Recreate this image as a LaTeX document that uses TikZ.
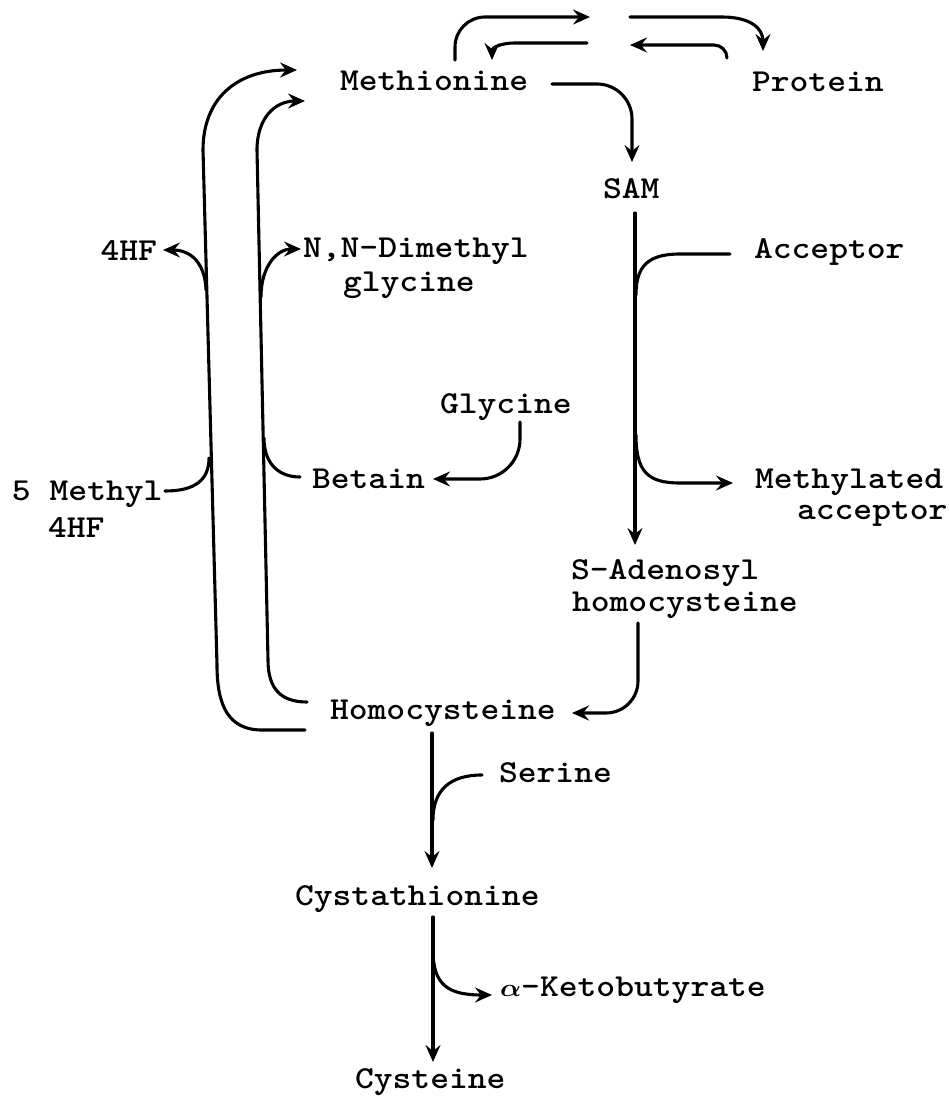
\documentclass[tikz,border=0pt]{standalone}
\usepackage{graphicx}
\usetikzlibrary{arrows.meta,calc}
\newcommand\twx[1]{\scalebox{1.12}[1]{#1}}
\begin{document}
\begin{tikzpicture}[x=1pt,y=-1pt,
  lbl/.style={inner sep=0pt,outer sep=0pt,anchor=base west,font=\fontsize{32}{32}\selectfont\ttfamily\bfseries},
  conn/.style={line width=3.1pt,line cap=round},
  arr/.style={conn,-{Stealth[length=17pt,width=15pt,inset=6pt]}}]
\useasboundingbox[fill=white] (0,0) rectangle (948,1097);
% labels
\node[lbl] (meth) at (340,91) {\twx{Methionine}};
\node[lbl] (prot) at (752,92) {\twx{Protein}};
\node[lbl] (sam) at (603,198) {\twx{SAM}};
\node[lbl] (acc) at (754,258) {\twx{Acceptor}};
\node[lbl,anchor=base east] (hf4) at (157,260) {\twx{4HF}};
\node[lbl] (dmg1) at (303,257) {\twx{N,N-Dimethyl}};
\node[lbl] (dmg2) at (343,291) {\twx{glycine}};
\node[lbl] (gly) at (440,413) {\twx{Glycine}};
\node[lbl] (bet) at (312,488) {\twx{Betain}};
\node[lbl] (mhf1) at (12,500) {\twx{5 Methyl}};
\node[lbl] (mhf2) at (48,537) {\twx{4HF}};
\node[lbl] (ma1) at (755,488) {\twx{Methylated}};
\node[lbl] (ma2) at (797,519) {\twx{acceptor}};
\node[lbl] (sah1) at (571,579) {\twx{S-Adenosyl}};
\node[lbl] (sah2) at (572,611) {\twx{homocysteine}};
\node[lbl] (hcy) at (330,719) {\twx{Homocysteine}};
\node[lbl] (ser) at (499,782) {\twx{Serine}};
\node[lbl] (cth) at (295,905) {\twx{Cystathionine}};
\node[lbl] (akb) at (500,996) {\twx{{\boldmath$\alpha$}-Ketobutyrate}};
\node[lbl] (cys) at (355,1088) {\twx{Cysteine}};
\coordinate (mid) at (610,30);
% Methionine -> SAM
\draw[arr,rounded corners=35] ($(meth.base west)+(212,-7)$) -| ($(sam.base west)+(29,-36)$);
% top cycle
\draw[arr,rounded corners=30] ($(meth.base west)+(115,-31)$) |- ($(mid)+(-20,-13)$);
\draw[arr] ($(mid)+(20,-13)$) -- (722,17) .. controls (750,17) and (763,28) .. ($(prot.base west)+(11,-41)$);
\draw[arr,rounded corners=13] ($(prot.base west)+(-25,-34)$) |- ($(mid)+(20,15)$);
\draw[arr] ($(mid)+(-23,13)$) -- (515,43) .. controls (500,43) and (492,48) .. ($(meth.base west)+(152,-31)$);
% outer loop (5-methyl-4HF)
\draw[arr] ($(hcy.base west)+(-25,11)$) -- (262,730) .. controls (228,730) and (217,705) .. (217,665)
  -- (203,150) .. controls (203,100) and (235,70) .. ($(meth.base west)+(-43,-21)$);
\draw[arr] (206,290) .. controls (205,262) and (190,250) .. ($(hf4.base east)+(6,-10)$);
\draw[conn] ($(mhf1.base west)+(153,-9)$) .. controls (195,491) and (209,480) .. (209,458);
% inner loop (betain)
\draw[arr] ($(hcy.base west)+(-23,-17)$) .. controls (282,702) and (268,690) .. (268,660)
  -- (257,150) .. controls (257,118) and (275,101) .. ($(meth.base west)+(-35,10)$);
\draw[arr] (261,297) .. controls (261,265) and (278,249) .. ($(dmg1.base west)+(-2,-8)$);
\draw[conn] ($(bet.base west)+(-12,-11)$) .. controls (280,477) and (264,465) .. (264,438);
% glycine -> betain
\draw[arr,rounded corners=40] ($(gly.base west)+(80,9)$) |- ($(bet.base west)+(121,-9)$);
% SAM -> S-adenosylhomocysteine
\draw[arr] ($(sam.base west)+(32,15)$) -- ($(sah1.base west)+(64,-34)$);
\draw[conn] ($(acc.base west)+(-24,-4)$) -- (680,254) .. controls (648,254) and (636,266) .. (636,295);
\draw[arr] (636,435) .. controls (636,472) and (648,483) .. (680,483) -- ($(ma1.base west)+(-22,-5)$);
% SAH -> homocysteine
\draw[arr,rounded corners=32] ($(sah2.base west)+(66,12)$) |- ($(hcy.base west)+(242,-6)$);
% homocysteine -> cystathionine
\draw[arr] ($(hcy.base west)+(102,14)$) -- ($(cth.base west)+(137,-37)$);
\draw[conn] ($(ser.base west)+(-17,-7)$) .. controls (450,775) and (433,790) .. (433,820);
% cystathionine -> cysteine
\draw[arr] ($(cth.base west)+(138,12)$) -- ($(cys.base west)+(78,-26)$);
\draw[arr] (433,950) .. controls (433,985) and (448,995) .. ($(akb.base west)+(-8,-1)$);
\end{tikzpicture}
\end{document}
